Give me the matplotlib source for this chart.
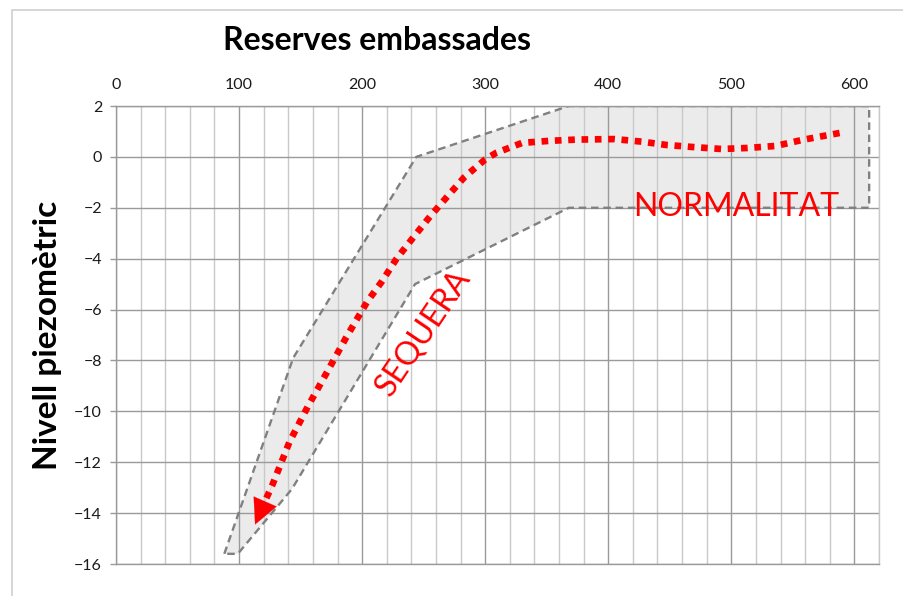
#!/usr/bin/env python3
"""Reserves embassades vs nivell piezometric: normalitat / sequera band."""
import matplotlib
matplotlib.use("Agg")
import matplotlib.pyplot as plt
from matplotlib.patches import Rectangle

plt.rcParams["font.family"] = ["Lato", "DejaVu Sans"]

# band of observed states (reserves [hm3], piezometric level [m])
BAND_X = [88, 144, 244, 368, 612, 612, 368, 243, 143, 99]
BAND_Y = [-15.6, -7.9, 0.0, 2.0, 2.0, -2.0, -2.0, -5.0, -13.05, -15.6]

# trajectory towards drought (drawn from right to left, arrow at the end)
TRAJ_X = [588, 558, 536, 513, 492, 468, 447, 427, 405, 374, 352, 330, 309,
          300, 283, 269, 255, 241, 228, 216, 204, 187, 171, 156, 141, 127,
          119, 113]
TRAJ_Y = [0.94, 0.67, 0.43, 0.35, 0.31, 0.39, 0.47, 0.60, 0.70, 0.68, 0.63,
          0.55, 0.16, -0.10, -0.80, -1.57, -2.35, -3.20, -4.00, -4.90, -5.70,
          -7.10, -8.50, -9.80, -11.20, -12.90, -13.75, -14.45]

X_TICKS = [0, 100, 200, 300, 400, 500, 600]
Y_TICKS = [2, 0, -2, -4, -6, -8, -10, -12, -14, -16]

GRID_MAJ = "#9a9a9a"
GRID_MIN = "#c9c9c9"
DASH = "#808080"
RED = "#ff0000"


def main():
    fig = plt.figure(figsize=(9.04, 5.96), dpi=100)
    fig.patches.append(Rectangle((12 / 904, -0.1), 1.2, 1 - 9.5 / 596 + 0.1,
                                 transform=fig.transFigure, fill=False,
                                 edgecolor="#d0d0d0", lw=1.2))
    ax = fig.add_axes([116 / 904, 1 - 564 / 596, (879 - 116) / 904,
                       (564 - 106) / 596])
    ax.set_xlim(0, 620)
    ax.set_ylim(-16, 2)

    ax.set_axisbelow(True)
    ax.set_xticks(X_TICKS)
    ax.set_xticks(range(0, 621, 20), minor=True)
    ax.set_yticks(Y_TICKS)
    ax.grid(which="minor", axis="x", color=GRID_MIN, lw=1.0)
    ax.grid(which="major", axis="x", color=GRID_MAJ, lw=1.0)
    ax.grid(which="major", axis="y", color=GRID_MAJ, lw=1.0)

    ax.xaxis.tick_top()
    ax.tick_params(axis="x", which="both", length=0, pad=10,
                   labelsize=11.5, colors="#1a1a1a")
    ax.tick_params(axis="y", length=4, width=1, color=GRID_MAJ, pad=6,
                   labelsize=11.5, labelcolor="#1a1a1a")
    for s in ax.spines.values():
        s.set_color(GRID_MAJ)
        s.set_linewidth(1.0)
    ax.spines["right"].set_color(GRID_MIN)

    ax.fill(BAND_X, BAND_Y, facecolor="#ebebeb", edgecolor="none", zorder=0.2)
    ax.plot(BAND_X + BAND_X[:1], BAND_Y + BAND_Y[:1], color=DASH, lw=1.7,
            dashes=(3.2, 2.0), zorder=2)

    ax.plot(TRAJ_X[:-1], TRAJ_Y[:-1], color=RED, lw=4.8, dashes=(1.0, 1.0),
            dash_capstyle="butt", zorder=3)
    ax.annotate("", xy=(TRAJ_X[-1], TRAJ_Y[-1]),
                xytext=(TRAJ_X[-3], TRAJ_Y[-3]),
                arrowprops=dict(arrowstyle="-|>,head_length=0.9,head_width=0.45",
                                color=RED, lw=0.1, mutation_scale=20,
                                shrinkA=0, shrinkB=0),
                zorder=4)

    ax.text(504, -1.95, "NORMALITAT", color=RED, fontsize=23,
            ha="center", va="center", zorder=5)
    ax.text(250, -6.9, "SEQUERA", color=RED, fontsize=23, rotation=56,
            ha="center", va="center", rotation_mode="anchor", zorder=5)

    fig.text(377 / 904, 1 - 40 / 596, "Reserves embassades", fontsize=23,
             fontweight="bold", ha="center", va="center", color="#000000")
    fig.text(48 / 904, 1 - 335 / 596, "Nivell piezomètric", fontsize=24,
             fontweight="bold", ha="center", va="center", rotation=90,
             color="#000000")

    fig.savefig("out.png", dpi=100, facecolor="white")


if __name__ == "__main__":
    main()
